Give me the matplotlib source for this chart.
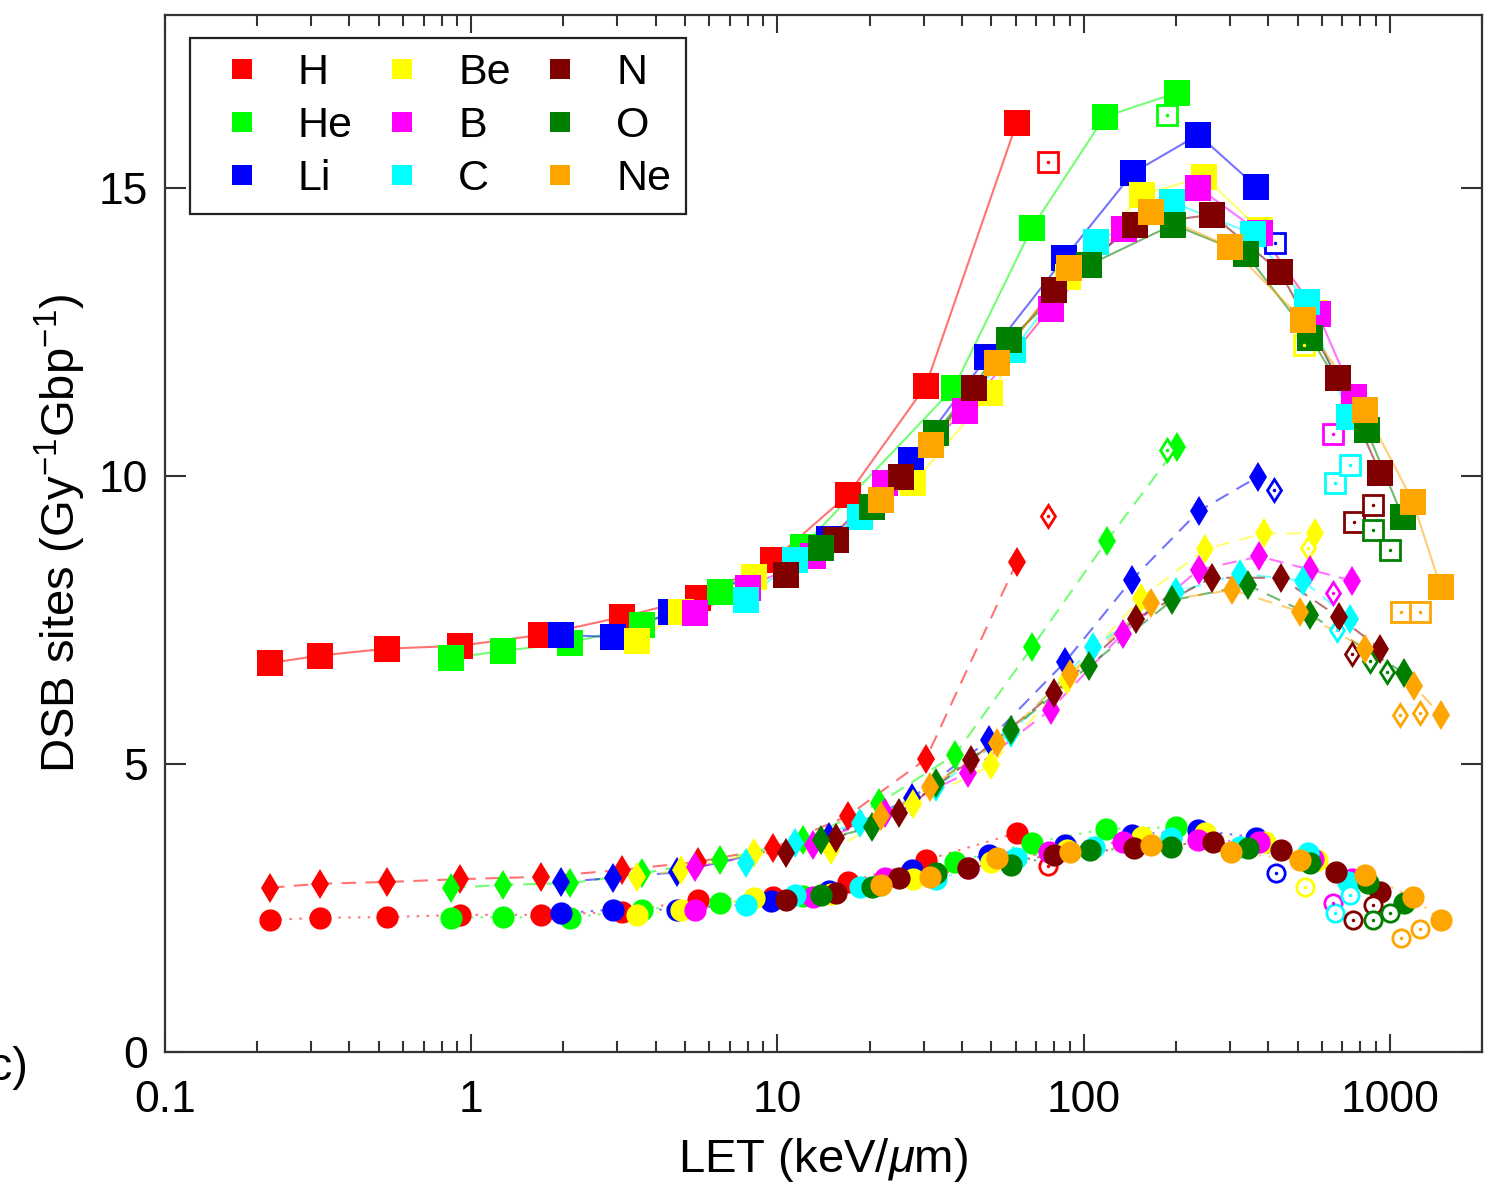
import numpy as np
import matplotlib
matplotlib.use("Agg")
import matplotlib.pyplot as plt
from matplotlib.lines import Line2D

plt.rcParams["font.family"] = ["Liberation Sans", "DejaVu Sans"]
plt.rcParams["mathtext.fontset"] = "custom"
plt.rcParams["mathtext.rm"] = "Liberation Sans"
plt.rcParams["mathtext.it"] = "Liberation Sans:italic"

ions = ["H", "He", "Li", "Be", "B", "C", "N", "O", "Ne"]
colors = ["#ff0000", "#00ff00", "#0000ff", "#ffff00", "#ff00ff",
          "#00ffff", "#800000", "#008000", "#ffa500"]

# ---- top group (squares) ----
sq_let = {
    "H":  [0.22, 0.32, 0.53, 0.92, 1.69, 3.1, 5.5, 9.7, 17, 30.5, 60.5],
    "He": [0.86, 1.27, 2.1, 3.6, 6.5, 12.1, 37.7, 67.7, 117, 202],
    "Li": [1.97, 2.9, 4.5, 14.7, 27.3, 48.5, 86.6, 145, 237, 366],
    "Be": [3.47, 4.85, 8.4, 27.8, 49.4, 89, 155, 248, 377, 570],
    "B":  [5.4, 8.0, 13.1, 22.5, 41, 78, 135, 237, 377, 583, 764],
    "C":  [7.9, 11.4, 18.6, 59, 110, 194, 357, 535, 734],
    "N":  [10.7, 15.5, 25.4, 44, 80, 147, 263, 438, 675, 930],
    "O":  [13.9, 20.4, 33, 57, 104, 196, 339, 550, 840, 1100],
    "Ne": [21.8, 31.7, 52, 89.4, 166, 301, 520, 830, 1190, 1465],
}
sq_val = {
    "H":  [6.75, 6.88, 7.0, 7.05, 7.24, 7.55, 7.88, 8.54, 9.67, 11.56, 16.13],
    "He": [6.84, 6.96, 7.1, 7.41, 7.99, 8.77, 11.53, 14.3, 16.23, 16.65],
    "Li": [7.24, 7.2, 7.64, 8.9, 10.28, 12.07, 13.78, 15.26, 15.92, 15.02],
    "Be": [7.13, 7.64, 8.25, 9.88, 11.43, 13.45, 14.88, 15.19, 14.27, 12.83],
    "B":  [7.62, 8.06, 8.6, 9.88, 11.12, 12.9, 14.28, 15.0, 14.22, 12.8, 11.37],
    "C":  [7.85, 8.54, 9.29, 12.19, 14.06, 14.75, 14.2, 13.02, 11.02],
    "N":  [8.28, 8.89, 9.98, 11.53, 13.23, 14.36, 14.53, 13.54, 11.7, 10.05],
    "O":  [8.75, 9.46, 10.75, 12.36, 13.66, 14.36, 13.85, 12.4, 10.8, 9.29],
    "Ne": [9.58, 10.54, 11.96, 13.61, 14.58, 13.97, 12.7, 11.15, 9.55, 8.07],
}
sq_open_let = {"H": [76.6], "He": [187], "Li": [421], "Be": [526], "B": [650],
               "C": [660, 740], "N": [763, 880], "O": [880, 1000], "Ne": [1090, 1250]}
sq_open_val = {"H": [15.45], "He": [16.27], "Li": [14.04], "Be": [12.27], "B": [10.73],
               "C": [9.88, 10.19], "N": [9.2, 9.49], "O": [9.06, 8.72], "Ne": [7.64, 7.64]}

# ---- middle group (diamonds) ----
dm_let = {
    "H":  [0.22, 0.32, 0.53, 0.92, 1.69, 3.1, 5.5, 9.7, 17, 30.5, 60.5],
    "He": [0.86, 1.27, 2.1, 3.6, 6.5, 12.1, 21.5, 38, 68, 119, 202],
    "Li": [1.97, 2.9, 4.7, 14.7, 27.5, 49, 87, 144, 238, 370],
    "Be": [3.47, 4.85, 8.4, 15, 27.8, 50, 88, 154, 250, 388, 570],
    "B":  [5.4, 13.1, 22.5, 42, 78, 134, 238, 375, 550, 750],
    "C":  [7.9, 11.4, 18.6, 33, 58, 107, 200, 325, 520, 740],
    "N":  [10.7, 15.5, 25, 43, 80, 148, 262, 440, 680, 930],
    "O":  [13.9, 20.4, 33, 58, 104, 195, 345, 550, 1110],
    "Ne": [21.8, 31.6, 52, 90, 166, 305, 510, 830, 1200, 1465],
}
dm_val = {
    "H":  [2.85, 2.92, 2.95, 3.0, 3.04, 3.16, 3.3, 3.54, 4.1, 5.08, 8.5],
    "He": [2.85, 2.9, 2.93, 3.1, 3.33, 3.68, 4.32, 5.16, 7.03, 8.87, 10.5],
    "Li": [2.95, 3.02, 3.12, 3.73, 4.41, 5.41, 6.77, 8.2, 9.39, 9.98],
    "Be": [3.04, 3.16, 3.45, 3.5, 4.3, 4.98, 6.45, 7.88, 8.73, 9.0, 9.0],
    "B":  [3.21, 3.6, 4.15, 4.85, 5.94, 7.26, 8.37, 8.6, 8.37, 8.18],
    "C":  [3.28, 3.63, 3.98, 4.6, 5.54, 7.03, 7.98, 8.3, 8.18, 7.52],
    "N":  [3.45, 3.71, 4.15, 5.07, 6.23, 7.52, 8.23, 8.23, 7.55, 7.0],
    "O":  [3.68, 3.9, 4.67, 5.59, 6.7, 7.84, 8.1, 7.59, 6.58],
    "Ne": [4.1, 4.6, 5.36, 6.56, 7.8, 8.02, 7.64, 7.0, 6.35, 5.85],
}
dm_open_let = {"H": [76.6], "He": [187], "Li": [418], "Be": [540], "B": [650],
               "C": [670], "N": [755], "O": [860, 980], "Ne": [1080, 1250]}
dm_open_val = {"H": [9.3], "He": [10.45], "Li": [9.76], "Be": [8.75], "B": [7.97],
               "C": [7.33], "N": [6.91], "O": [6.79, 6.6], "Ne": [5.85, 5.88]}

# ---- bottom group (circles) ----
ci_let = {
    "H":  [0.22, 0.32, 0.53, 0.92, 1.69, 3.1, 5.5, 9.7, 17, 30.5, 60.5],
    "He": [0.86, 1.27, 2.1, 3.6, 6.5, 12.1, 21.5, 38, 68, 118, 200],
    "Li": [1.97, 2.9, 4.7, 9.5, 14.7, 27.5, 49, 87, 144, 237, 366],
    "Be": [3.47, 4.85, 8.4, 15, 27.8, 50, 88, 155, 250, 390, 580],
    "B":  [5.4, 13.1, 22.5, 42, 77, 134, 237, 375, 560, 750],
    "C":  [7.9, 11.4, 18.6, 33, 60, 108, 193, 325, 540, 730],
    "N":  [10.7, 15.5, 25, 42, 80, 146, 265, 440, 665, 930],
    "O":  [13.9, 20.4, 33, 58, 105, 193, 345, 550, 850, 1110],
    "Ne": [21.8, 31.6, 52, 90, 166, 303, 510, 830, 1190, 1465],
}
ci_val = {
    "H":  [2.29, 2.33, 2.34, 2.38, 2.38, 2.43, 2.64, 2.69, 2.95, 3.33, 3.8],
    "He": [2.33, 2.34, 2.33, 2.47, 2.59, 2.7, 2.9, 3.3, 3.63, 3.87, 3.9],
    "Li": [2.41, 2.47, 2.47, 2.62, 2.8, 3.16, 3.42, 3.6, 3.77, 3.85, 3.72],
    "Be": [2.38, 2.47, 2.67, 2.75, 3.0, 3.3, 3.5, 3.73, 3.8, 3.65, 3.33],
    "B":  [2.47, 2.69, 3.02, 3.2, 3.47, 3.65, 3.68, 3.65, 3.35, 3.0],
    "C":  [2.55, 2.73, 2.86, 3.0, 3.37, 3.56, 3.72, 3.56, 3.45, 2.95],
    "N":  [2.64, 2.76, 3.02, 3.2, 3.42, 3.54, 3.65, 3.5, 3.13, 2.78],
    "O":  [2.73, 2.86, 3.1, 3.25, 3.5, 3.56, 3.54, 3.28, 2.93, 2.59],
    "Ne": [2.9, 3.04, 3.37, 3.47, 3.59, 3.47, 3.33, 3.07, 2.69, 2.29],
}
ci_open_let = {"H": [76.6], "He": [], "Li": [426], "Be": [530], "B": [650],
               "C": [660, 740], "N": [760, 880], "O": [880, 1000], "Ne": [1090, 1250]}
ci_open_val = {"H": [3.23], "He": [], "Li": [3.1], "Be": [2.86], "B": [2.59],
               "C": [2.41, 2.72], "N": [2.29, 2.55], "O": [2.29, 2.41], "Ne": [1.98, 2.14]}

xtick_vals = [0.1, 1, 10, 100, 1000]
xtick_labels = ["0.1", "1", "10", "100", "1000"]
ytick_vals = [0, 5, 10, 15]

fig = plt.figure(figsize=(14.92, 11.88), dpi=100)
ax = fig.add_axes([0.1106, 0.1145, 0.8827, 0.873])

groups = [
    (sq_let, sq_val, sq_open_let, sq_open_val, "s", 19, "-"),
    (dm_let, dm_val, dm_open_let, dm_open_val, "d", 15, (0, (7, 4.5))),
    (ci_let, ci_val, ci_open_let, ci_open_val, "o", 16, (0, (1.2, 3.5))),
]

for ion, c in zip(ions, colors):
    for lx, ly, ox, oy, mk, ms, ls in groups:
        ax.plot(lx[ion], ly[ion], color=c, lw=1.5, alpha=0.55, ls=ls, zorder=1)
        ax.plot(lx[ion], ly[ion], ls="none", marker=mk, ms=ms, mfc=c, mec=c,
                mew=0, zorder=2)
        if ox[ion]:
            ax.plot(ox[ion], oy[ion], ls="none", marker=mk, ms=ms * 0.78,
                    mfc="white", mec=c, mew=2, zorder=2)
            ax.plot(ox[ion], oy[ion], ls="none", marker=".", ms=3, color=c, zorder=3)

ax.set_xscale("log")
ax.set_xlim(0.1, 2000)
ax.set_ylim(0, 18)
ax.set_xticks(xtick_vals, labels=xtick_labels)
ax.set_yticks(ytick_vals)
ax.tick_params(which="both", direction="in", top=True, right=True, width=1.5,
               color="#333333", labelsize=32)
ax.tick_params(axis="x", which="major", length=13, pad=20)
ax.tick_params(axis="x", which="minor", length=8)
ax.tick_params(axis="y", which="major", length=15, pad=12)
for sp in ax.spines.values():
    sp.set_linewidth(1.6)
    sp.set_color("#333333")

ax.set_xlabel(r"LET (keV/$\mu$m)", fontsize=34, labelpad=11)
ax.set_ylabel(r"DSB sites (Gy$^{-1}$Gbp$^{-1}$)", fontsize=34, labelpad=8)

handles = [Line2D([], [], ls="none", marker="s", ms=15, mfc=c, mec=c, mew=0)
           for c in colors]
leg = ax.legend(handles, ions, ncol=3, loc="upper left",
                bbox_to_anchor=(0.019, 0.978), borderaxespad=0, fontsize=31,
                fancybox=False, framealpha=1, edgecolor="#222222",
                handlelength=1.7, handletextpad=0.45, labelspacing=0.3,
                columnspacing=0.3, borderpad=0.35)
leg.get_frame().set_linewidth(1.6)

fig.text(0.019, 0.101, "(c)", fontsize=34, ha="right", va="center")

fig.savefig("out.png", dpi=100)
